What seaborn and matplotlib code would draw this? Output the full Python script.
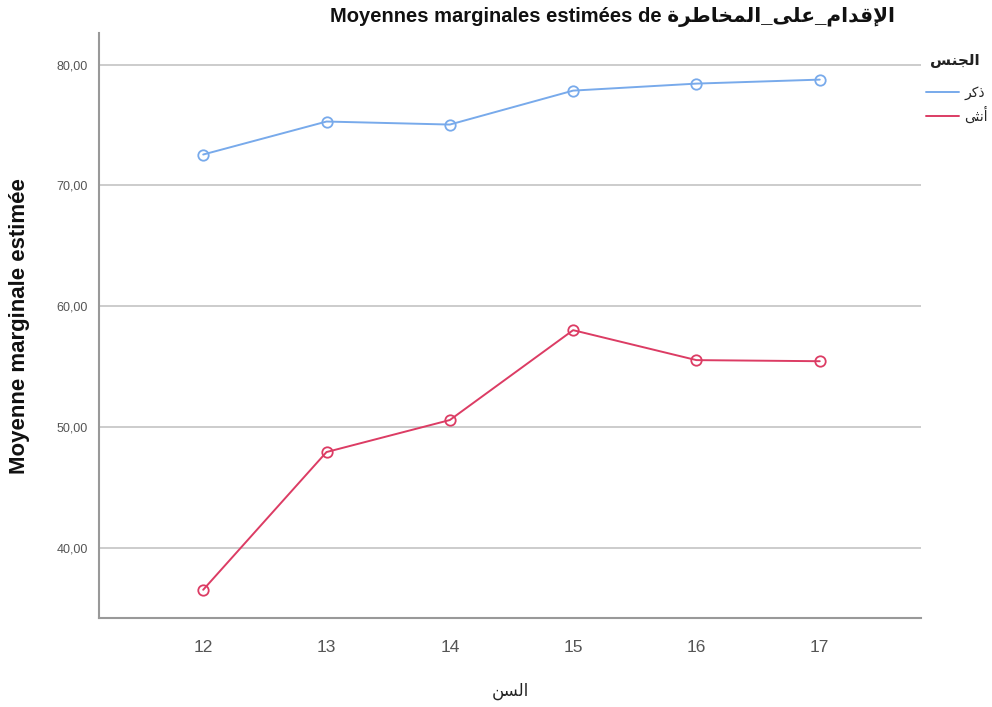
import pandas as pd
import seaborn as sns
import matplotlib.pyplot as plt
from matplotlib.lines import Line2D

# ages on the x axis
ages = [12, 13, 14, 15, 16, 17]
# estimated marginal means per gender
male_means = [72.56, 75.29, 75.04, 77.85, 78.43, 78.76]
female_means = [36.53, 47.93, 50.58, 58.02, 55.54, 55.45]
gender_labels = ["ذكر", "أنثى"]
y_ticks = [40, 50, 60, 70, 80]
colors = ["#78aaeb", "#dc3c64"]

# arabic presentation forms: (isolated, final, initial, medial)
FORMS = {
    "ا": ("\uFE8D", "\uFE8E", None, None),
    "أ": ("\uFE83", "\uFE84", None, None),
    "إ": ("\uFE87", "\uFE88", None, None),
    "د": ("\uFEA9", "\uFEAA", None, None),
    "ذ": ("\uFEAB", "\uFEAC", None, None),
    "ر": ("\uFEAD", "\uFEAE", None, None),
    "ة": ("\uFE93", "\uFE94", None, None),
    "ى": ("\uFEEF", "\uFEF0", None, None),
    "ل": ("\uFEDD", "\uFEDE", "\uFEDF", "\uFEE0"),
    "ق": ("\uFED5", "\uFED6", "\uFED7", "\uFED8"),
    "م": ("\uFEE1", "\uFEE2", "\uFEE3", "\uFEE4"),
    "ع": ("\uFEC9", "\uFECA", "\uFECB", "\uFECC"),
    "ط": ("\uFEC1", "\uFEC2", "\uFEC3", "\uFEC4"),
    "خ": ("\uFEA5", "\uFEA6", "\uFEA7", "\uFEA8"),
    "ك": ("\uFED9", "\uFEDA", "\uFEDB", "\uFEDC"),
    "ن": ("\uFEE5", "\uFEE6", "\uFEE7", "\uFEE8"),
    "ث": ("\uFE99", "\uFE9A", "\uFE9B", "\uFE9C"),
    "ج": ("\uFE9D", "\uFE9E", "\uFE9F", "\uFEA0"),
    "س": ("\uFEB1", "\uFEB2", "\uFEB3", "\uFEB4"),
}
LAM_ALEF = {"ا": ("\uFEFB", "\uFEFC"), "إ": ("\uFEF9", "\uFEFA"), "أ": ("\uFEF7", "\uFEF8")}


def shape(text):
    # join arabic letters and put them in visual order
    out = []
    i = 0
    n = len(text)
    while i < n:
        c = text[i]
        if c not in FORMS:
            out.append(c)
            i += 1
            continue
        prev = text[i - 1] if i > 0 else ""
        nxt = text[i + 1] if i + 1 < n else ""
        p = prev in FORMS and FORMS[prev][2] is not None
        if c == "ل" and nxt in LAM_ALEF:
            iso, fin = LAM_ALEF[nxt]
            out.append(fin if p else iso)
            i += 2
            continue
        iso, fin, ini, med = FORMS[c]
        q = ini is not None and nxt in FORMS
        if p and q:
            out.append(med)
        elif p:
            out.append(fin)
        elif q:
            out.append(ini)
        else:
            out.append(iso)
        i += 1
    return "".join(reversed(out))


df = pd.DataFrame({
    "age": ages * 2,
    "mean": male_means + female_means,
    "sex": [gender_labels[0]] * len(ages) + [gender_labels[1]] * len(ages),
})

sns.set_style("white")
plt.rcParams["font.family"] = ["Liberation Sans", "DejaVu Sans"]

fig = plt.figure(figsize=(9.92, 7.07), dpi=100)
ax = fig.add_axes([0.0998, 0.126, 0.8285, 0.827])

sns.lineplot(data=df, x="age", y="mean", hue="sex", palette=colors,
             marker="o", markersize=7.5, linewidth=1.4, ax=ax, legend=False)
# open circles in the line colour
for line in ax.lines:
    line.set_markerfacecolor("none")
    line.set_markeredgecolor(line.get_color())
    line.set_markeredgewidth(1.3)

ax.set_xlim(11.155, 17.82)
ax.set_ylim(34.2, 82.6)
ax.set_xticks(ages)
ax.set_xticklabels([str(a) for a in ages], fontsize=12.5, color="#555555")
ax.set_yticks(y_ticks)
ax.set_yticklabels([f"{v},00" for v in y_ticks], fontsize=9, color="#555555")
ax.tick_params(axis="both", length=0)
ax.tick_params(axis="y", pad=8)
ax.tick_params(axis="x", pad=16)
ax.yaxis.grid(True, color="#cccccc", linewidth=1.4)
ax.set_axisbelow(True)

for side in ["top", "right"]:
    ax.spines[side].set_visible(False)
for side in ["left", "bottom"]:
    ax.spines[side].set_color("#999999")
    ax.spines[side].set_linewidth(1.5)

ax.set_xlabel(shape("السن"), fontsize=12, labelpad=20, color="#222222")
ax.set_ylabel("Moyenne marginale estimée", fontsize=16, fontweight="bold",
              labelpad=19, color="#111111")
fig.text(612 / 992, 1 - 17 / 707,
         "Moyennes marginales estimées de " + shape("الإقدام_على_المخاطرة"),
         fontsize=14.5, fontweight="bold", color="#111111",
         ha="center", va="center")

# legend title drawn as its own text, entries below it
fig.text(955 / 992, 1 - 61 / 707, shape("الجنس"), fontsize=11,
         fontweight="bold", color="#222222", ha="center", va="center")
handles = [Line2D([], [], color=colors[i], linewidth=1.4) for i in range(2)]
fig.legend(handles, [shape(g) for g in gender_labels], loc="upper left",
           bbox_to_anchor=(0.933, 1 - 86 / 707), frameon=False,
           fontsize=10, handlelength=2.4, handletextpad=0.4,
           labelspacing=0.45, borderaxespad=0, borderpad=0)

plt.savefig("out.png", dpi=100)
